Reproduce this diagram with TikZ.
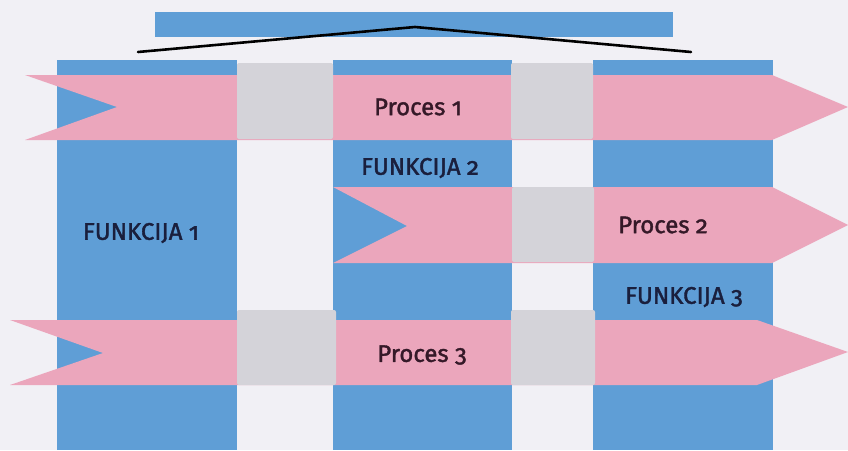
\documentclass[tikz,border=0pt]{standalone}
\usepackage{fontspec}
\setmainfont{Fira Sans}[Numbers=OldStyle]
\newfontfamily\labelfont{Fira Sans}[Numbers=OldStyle, FakeBold=1.6]
\definecolor{bg}{HTML}{F1F0F5}
\definecolor{colblue}{HTML}{5F9ED6}
\definecolor{procpink}{HTML}{EBA6BC}
\definecolor{gapgray}{HTML}{D4D3D9}
\definecolor{funtext}{HTML}{1A1F3D}
\definecolor{proctext}{HTML}{351928}
\tikzset{
  colbar/.style={fill=colblue, draw=none},
  procband/.style={fill=procpink, draw=none},
  gapbox/.style={fill=gapgray, draw=none},
  funlabel/.style={text=funtext, font=\labelfont\fontsize{24}{26}\selectfont, inner sep=0pt},
  proclabel/.style={text=proctext, font=\labelfont\fontsize{24}{26}\selectfont, inner sep=0pt},
}
\begin{document}
\begin{tikzpicture}[x=1pt, y=-1pt]
\fill[bg] (0,0) rectangle (848,450);
\useasboundingbox (0,0) rectangle (848,450);
% top bar and roof line
\fill[colblue] (155,12) rectangle (673,37);
\coordinate (rl) at (138,52);
\coordinate (ra) at (415,27);
\coordinate (rr) at (691,52);
\draw[black, line width=2.6pt, line cap=round] (rl) -- (ra) -- (rr);
% columns
\fill[colbar] (57,60) rectangle (237,450);
\fill[colbar] (333,60) rectangle (512,450);
\fill[colbar] (593,60) rectangle (773,450);
% process bands
\fill[procband] (25,75) -- (772,75) -- (848,107) -- (772,140) -- (25,140) -- (117,107) -- cycle;
\fill[procband] (333,187) -- (772,187) -- (848,225) -- (772,263) -- (333,263) -- (407,226) -- cycle;
\fill[procband] (10,320) -- (757,320) -- (848,352) -- (757,385) -- (10,385) -- (103,353) -- cycle;
% gray gap boxes
\fill[gapbox, rounded corners=2pt] (237,63) rectangle (333,139);
\fill[gapbox, rounded corners=2pt] (511,63) rectangle (593,139);
\fill[gapbox, rounded corners=2pt] (512,187) rectangle (594,262);
\fill[gapbox, rounded corners=2pt] (237,310) rectangle (336,385);
\fill[gapbox, rounded corners=2pt] (511,310) rectangle (595,385);
% labels
\node[proclabel] (p1) at (418,107) {Proces 1};
\node[funlabel] (f2) at (420,168) {FUNKCIJA 2};
\node[funlabel] (f1) at (141,233) {FUNKCIJA 1};
\node[proclabel] (p2) at (663,225) {Proces 2};
\node[funlabel] (f3) at (684,297) {FUNKCIJA 3};
\node[proclabel] (p3) at (422,355) {Proces 3};
\end{tikzpicture}
\end{document}
